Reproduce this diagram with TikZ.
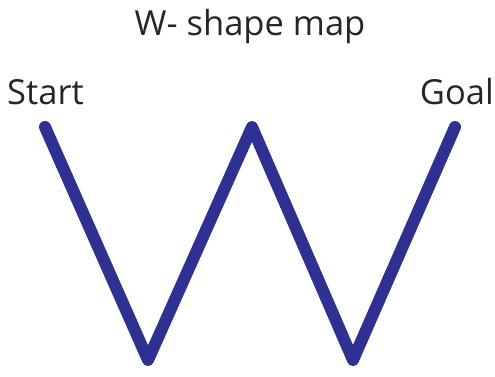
\documentclass[tikz,border=0pt]{standalone}
\usepackage{fontspec}
\setmainfont{Open Sans}
\definecolor{wblue}{HTML}{2E3192}
\begin{document}
\begin{tikzpicture}[x=1pt,y=-1pt,
  lbl/.style={inner sep=0pt, text=black!85, font=\fontsize{34.5}{40}\selectfont},
  wline/.style={draw=wblue, line width=12pt, line cap=round, line join=round}]
\useasboundingbox (0,0) rectangle (495,376);
\node[lbl, anchor=base] (title) at (250,35) {W- shape map};
\node[lbl, anchor=base west] (start) at (7,104) {Start};
\node[lbl, anchor=base east] (goal) at (494,104) {Goal};
\coordinate (p1) at (45,127);
\coordinate (p2) at (148,360);
\coordinate (p3) at (252,127);
\coordinate (p4) at (353,360);
\coordinate (p5) at (455,127);
\draw[wline] (p1) -- (p2) -- (p3) -- (p4) -- (p5);
\end{tikzpicture}
\end{document}
